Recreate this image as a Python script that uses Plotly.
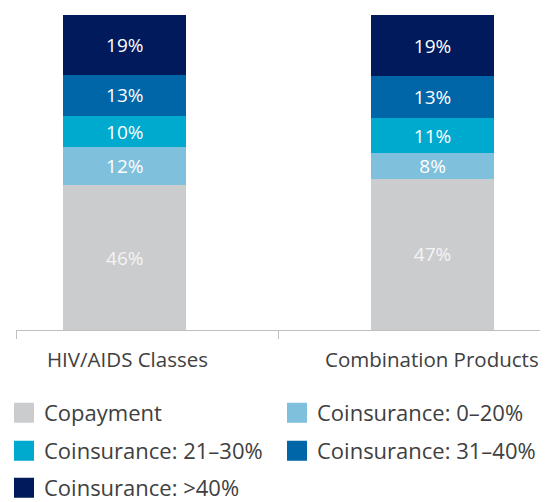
import plotly.graph_objects as go

categories = ["HIV/AIDS Classes", "Combination Products"]
series_names = ["Copayment", "Coinsurance: 0–20%", "Coinsurance: 21–30%",
                "Coinsurance: 31–40%", "Coinsurance: >40%"]
copayment = [46, 47]
coins_0_20 = [12, 8]
coins_21_30 = [10, 11]
coins_31_40 = [13, 13]
coins_40_plus = [19, 19]

series_values = [copayment, coins_0_20, coins_21_30, coins_31_40, coins_40_plus]
colors = ["#CBCCCE", "#7FC0DC", "#00A9CE", "#0066A8", "#001A5C"]
text_colors = ["#F4F4F4", "white", "white", "white", "white"]

FONT = "Open Sans"
# the page body adds an 8px margin, so the figure is 8px smaller than the window
OFF = 8
W, H = 548 - OFF, 502 - OFF
ML, MR, MT, MB = 16 - OFF, 8, 15 - OFF, 172

fig = go.Figure()
legend_ids = ["legend", "legend2", "legend3", "legend4", "legend5"]
for name, vals, col, tcol in zip(series_names, series_values, colors, text_colors):
    fig.add_trace(go.Bar(
        x=categories, y=vals, name=name,
        marker=dict(color=col, line=dict(width=0)),
        text=[f"{v}%" for v in vals], texttemplate="%{text}",
        textposition="inside", insidetextanchor="middle", textangle=0,
        textfont=dict(color=tcol, size=19, family=FONT),
        width=0.47, offset=[-0.32, -0.145],
        showlegend=False, hoverinfo="skip",
    ))

# legend entries (square swatches)
for name, col, lid in zip(series_names, colors, legend_ids):
    fig.add_trace(go.Scatter(
        x=[None], y=[None], mode="markers", name=name,
        marker=dict(symbol="square", size=16, color=col, line=dict(width=4, color=col)),
        legend=lid, showlegend=True, hoverinfo="skip",
    ))

# legend positions (page pixels: legend left x, row centre y, entry indentation)
leg_pos = [(8, 413, -4), (277, 413, 0), (8, 451, -4), (277, 451, 0), (8, 488, -4)]
legends = {}
for lid, (px, py, ind) in zip(legend_ids, leg_pos):
    legends[lid] = dict(
        xref="container", yref="container",
        x=(px - OFF) / W, y=1 - (py - OFF) / H,
        xanchor="left", yanchor="middle", indentation=ind,
        orientation="h", font=dict(family=FONT, size=22, color="#404040"),
        bgcolor="rgba(0,0,0,0)", borderwidth=0, itemsizing="trace",
    )

annotations = []
for cat, shift in zip(categories, [-20, 23]):
    annotations.append(dict(
        x=cat, xref="x", y=0, yref="paper", yanchor="middle", yshift=-29,
        xshift=shift, text=cat, showarrow=False,
        font=dict(family=FONT, size=20.5, color="#404040"),
    ))

fig.update_layout(
    width=W, height=H, barmode="stack", barnorm="percent",
    margin=dict(l=ML, r=MR, t=MT, b=MB, pad=0),
    paper_bgcolor="white", plot_bgcolor="white",
    xaxis=dict(type="category", range=[-0.5, 1.5], tickson="boundaries",
               ticks="outside", ticklen=8, tickcolor="#BFBFBF", tickwidth=1,
               showline=True, linecolor="#BFBFBF", linewidth=1,
               showticklabels=False, showgrid=False, zeroline=False, fixedrange=True),
    yaxis=dict(range=[0, 100], visible=False, showgrid=False, fixedrange=True),
    annotations=annotations,
    uniformtext=dict(mode="show", minsize=19),
    **legends,
)

fig.write_html("out.html", config={"displayModeBar": False})
